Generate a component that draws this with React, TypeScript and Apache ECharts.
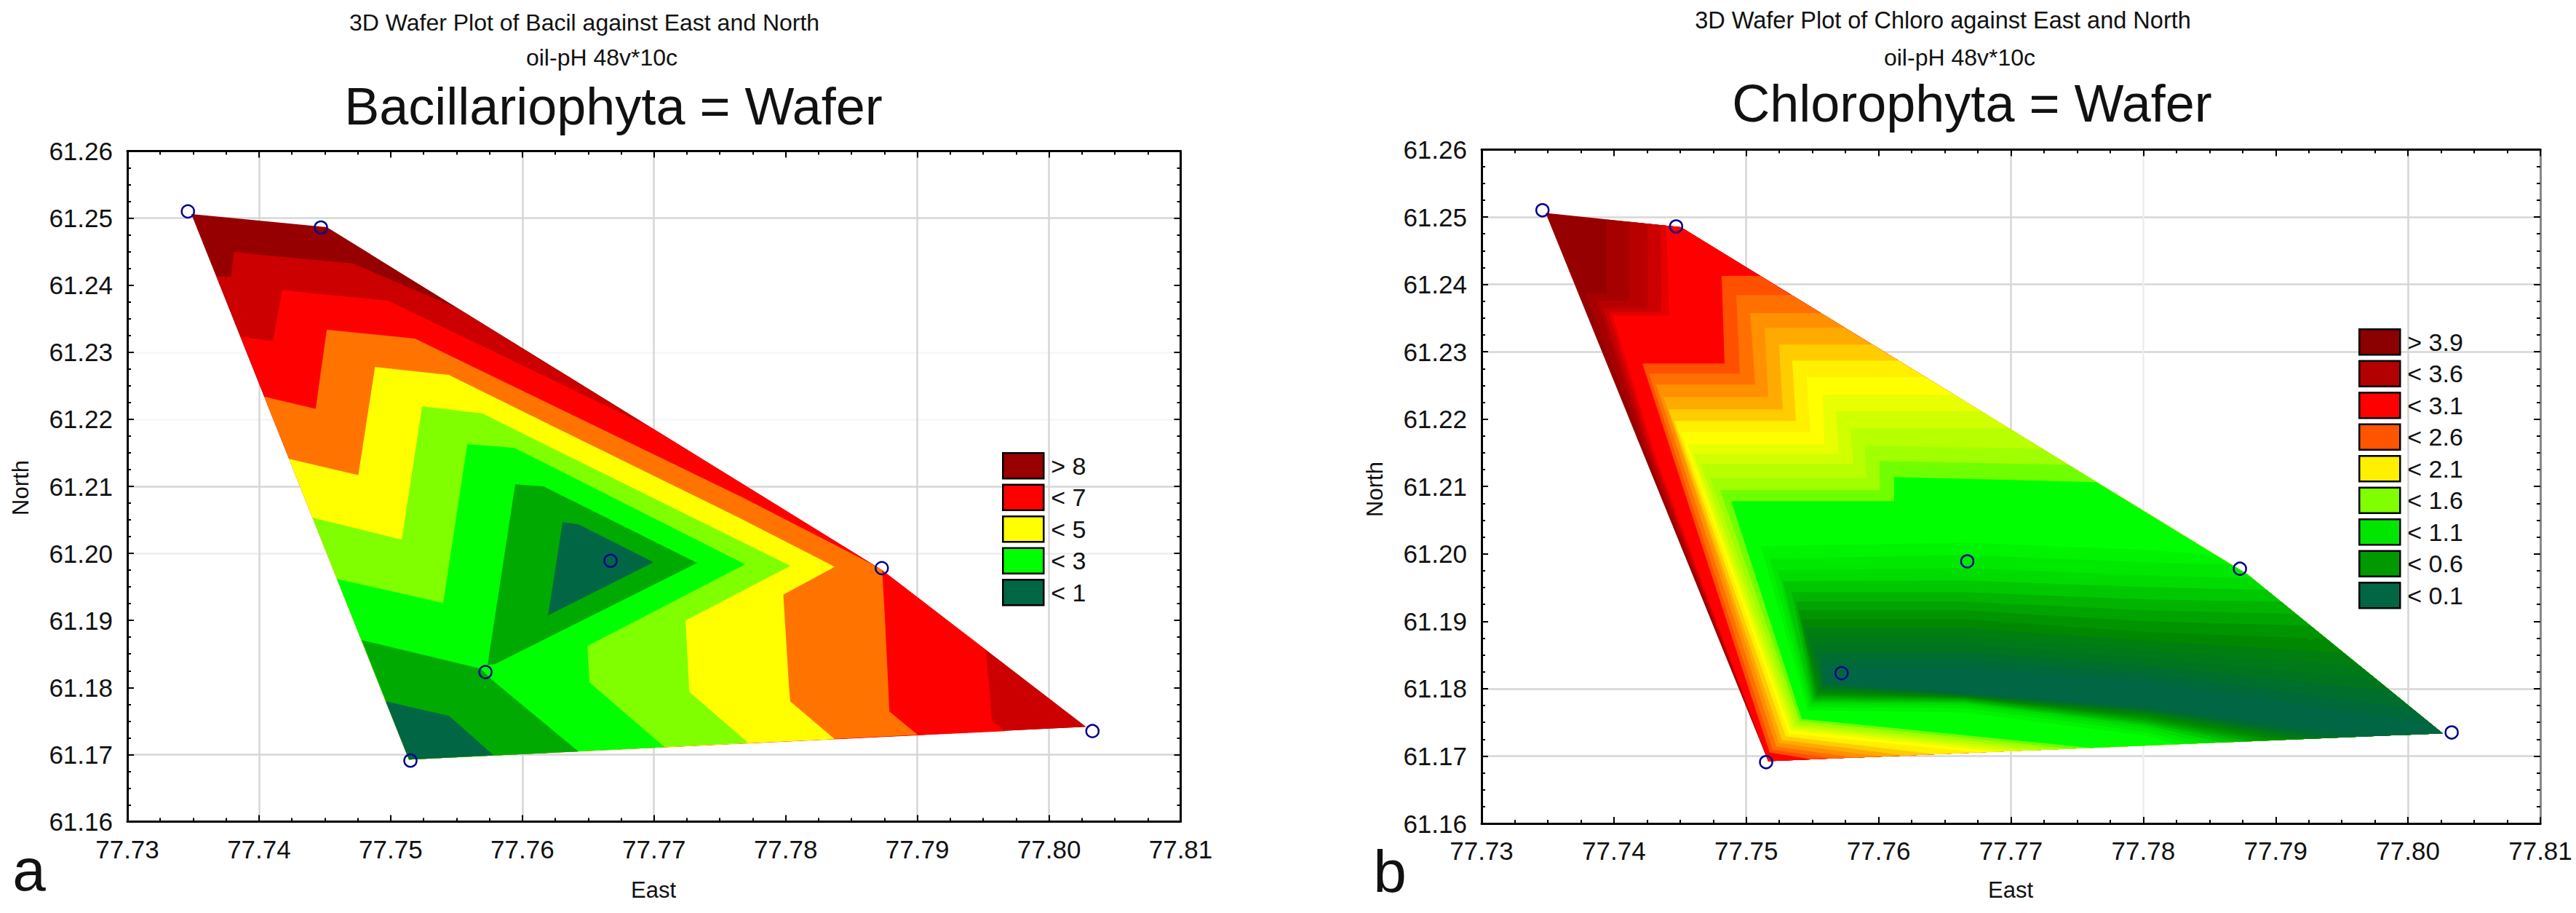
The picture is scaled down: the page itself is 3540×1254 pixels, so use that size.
import React, { useEffect, useRef } from "react";
import * as echarts from "echarts";

const FONT = "Liberation Sans";

// shared axes and the sampling sites, same for both wafers
const eastTicks = { min: 77.73, max: 77.81, interval: 0.01 };
const northTicks = { min: 61.16, max: 61.26, interval: 0.01 };
const siteEast = [77.7346, 77.7447, 77.7667, 77.7873, 77.8033, 77.7515, 77.7572];
const siteNorth = [61.251, 61.2486, 61.1989, 61.1978, 61.1735, 61.1691, 61.1823];

// ---- panel a, Bacillariophyta: contour bands as [east, north], painted high to low ----
const bacilP2 = [77.74515, 61.24865];
const bacilP6 = [77.78733, 61.1975];
const bacilP7 = [77.8028, 61.17414];
const bacilP3 = [77.75139, 61.16926];
const bacilWafer = [[77.73486, 61.25061], bacilP2, bacilP6, bacilP7, bacilP3];
const bacilBand1 = [[77.73677, 61.24133], [77.73787, 61.24124], [77.73809, 61.24498], [77.74006, 61.24454], [77.74712, 61.24325], [77.75499, 61.2366], bacilP6, bacilP7, bacilP3];
const bacilBand2 = [[77.73862, 61.2323], [77.74106, 61.23166], [77.74176, 61.23931], [77.7443, 61.23875], [77.74979, 61.23768], [77.7698, 61.21878], bacilP6, [77.79518, 61.18566], [77.79545, 61.18044], [77.79567, 61.17501], [77.79667, 61.17349], bacilP3];
const bacilBand3 = [[77.74039, 61.22338], [77.7443, 61.22157], [77.74515, 61.23338], [77.75184, 61.23203], [77.77671, 61.20836], [77.78639, 61.19858], bacilP6, [77.78755, 61.18989], [77.78788, 61.17643], [77.79003, 61.17295], bacilP3];
const bacilBand4 = [[77.74227, 61.21411], [77.74754, 61.21168], [77.74881, 61.2278], [77.75443, 61.2266], [77.77671, 61.20507], [77.78373, 61.19801], [77.77982, 61.19384], [77.78023, 61.1808], [77.78034, 61.17795], [77.78373, 61.1723], bacilP3];
const bacilBand5 = [[77.74407, 61.20532], [77.75084, 61.20206], [77.75239, 61.22193], [77.75698, 61.22085], [77.78036, 61.19815], [77.7724, 61.19], [77.77268, 61.17936], [77.77715, 61.17175], bacilP3];
const bacilBand6 = [[77.74592, 61.19619], [77.75399, 61.19261], [77.75582, 61.21629], [77.75941, 61.21574], [77.77693, 61.19836], [77.76494, 61.1862], [77.7651, 61.18077], [77.7708, 61.1711], bacilP3];
const bacilBand7a = [[77.75946, 61.21031], [77.76162, 61.20999], [77.77328, 61.19858], [77.75792, 61.18348], [77.75736, 61.18338]];
const bacilBand7b = [[77.7478, 61.18707], [77.75681, 61.18283], [77.75792, 61.18077], [77.76427, 61.17045], bacilP3];
const bacilBand8a = [[77.76306, 61.20466], [77.76427, 61.20434], [77.76997, 61.19869], [77.76195, 61.19076]];
const bacilBand8b = [[77.74962, 61.17795], [77.75443, 61.17577], [77.75781, 61.16991], bacilP3];
const bacilBands = [bacilWafer, bacilBand1, bacilBand2, bacilBand3, bacilBand4, bacilBand5, bacilBand6, bacilBand7a, bacilBand7b, bacilBand8a, bacilBand8b];
const bacilColors = ["#960000", "#cc0000", "#ff0000", "#ff7400", "#ffff00", "#7fff00", "#00ff00", "#00aa00", "#00aa00", "#006644", "#006644"];
const bacilLegend = ["> 8", "< 7", "< 5", "< 3", "< 1"];
const bacilLegendColors = ["#990000", "#ff0000", "#ffff00", "#00ff00", "#006644"];

// ---- panel b, Chlorophyta: finer levels read band by band ----
const chloroTip = [77.73484, 61.25059];
const chloroP2 = [77.74506, 61.24849];
const chloroP6 = [77.78787, 61.19694];
const chloroP7 = [77.80262, 61.17338];
const chloroP3 = [77.75166, 61.16924];
const chloroWafer = [chloroTip, chloroP2, chloroP6, chloroP7, chloroP3];

// dark red wedge at the tip
const darkColors = ["#a60000", "#b80000", "#cc0000", "#e60000", "#ff0000"];
const darkTopEast = [77.73946, 77.74116, 77.74253, 77.74352, 77.74396];
const darkTopNorth = [61.24964, 61.24929, 61.24901, 61.24881, 61.24871];
const darkStepEast = [77.73946, 77.74116, 77.74253, 77.74358, 77.74418];
const darkStepNorth = [61.23865, 61.23757, 61.23649, 61.23584, 61.2354];
const darkLeftEast = [77.73781, 77.73874, 77.73918, 77.73962, 77.7399];
const darkMidEast = [77.74237, 77.74253, 77.7427, 77.74286, 77.74303];
const darkMidNorth = 61.21519;

// orange to green staircase
const stairColors = ["#ff5000", "#ff7000", "#ff9000", "#ffaa00", "#ffcc00", "#fff000", "#ffff00", "#e8ff00", "#d0ff00", "#b8ff00", "#a0ff00", "#70ff00", "#00ff00"];
const stairEdgeEast = [77.75106, 77.75342, 77.75567, 77.75743, 77.75952, 77.7615, 77.76354, 77.76573, 77.76777, 77.76986, 77.77233, 77.77431, 77.77645];
const stairEdgeNorth = [61.24124, 61.23843, 61.23573, 61.23357, 61.23108, 61.2287, 61.22622, 61.22362, 61.22113, 61.21865, 61.21562, 61.21324, 61.21065];
const stairTopEast = [77.74814, 77.74924, 77.75029, 77.75139, 77.75248, 77.75347, 77.75457, 77.75578, 77.75677, 77.75787, 77.75897, 77.76007, 77.76117];
const stairTopNorth = [61.24124, 61.23843, 61.23573, 61.23357, 61.23108, 61.2287, 61.22622, 61.22362, 61.22113, 61.21865, 61.21605, 61.21378, 61.2114];
const stairLowEast = [77.74836, 77.74952, 77.75067, 77.75166, 77.75276, 77.75375, 77.75485, 77.75589, 77.75699, 77.75809, 77.75908, 77.76007, 77.76117];
const stairLowNorth = [61.22827, 61.22676, 61.22513, 61.2233, 61.22146, 61.21973, 61.21811, 61.21627, 61.21486, 61.21335, 61.2113, 61.20946, 61.20784];
const stairWestEast = [77.74215, 77.74264, 77.74319, 77.74374, 77.74413, 77.74457, 77.74506, 77.74556, 77.746, 77.74655, 77.74726, 77.74803, 77.74886];
const stairCornerEast = [77.75177, 77.75199, 77.75227, 77.75248, 77.7527, 77.75298, 77.7532, 77.75336, 77.75353, 77.75369, 77.75386, 77.75402, 77.75419];
const stairCornerNorth = [61.17054, 61.17097, 61.1714, 61.17194, 61.17238, 61.17292, 61.17335, 61.17378, 61.17411, 61.17443, 61.17475, 61.17519, 61.17551];
const stairBaseEast = [77.75496, 77.75661, 77.75826, 77.76018, 77.7621, 77.7643, 77.7676, 77.76898, 77.77035, 77.77173, 77.7731, 77.77447, 77.77601];
const stairBaseNorth = [61.16951, 61.16964, 61.16978, 61.16993, 61.17008, 61.17027, 61.17054, 61.17065, 61.17076, 61.17086, 61.17097, 61.17109, 61.17122];

// green to dark valley running to the east corner
const valleyColors = ["#00f400", "#00e800", "#00dc00", "#00c800", "#00b400", "#00a400", "#009400", "#008800", "#007f10", "#007a18", "#00741f", "#006e2c", "#00693a", "#006644"];
const valleyMidEast = 77.7665;
const valleyFarEast = 77.78025;
const valleyWestEast = [77.75111, 77.75177, 77.75237, 77.75276, 77.75342, 77.75375, 77.75397, 77.75413, 77.75441, 77.75468, 77.75501, 77.75534, 77.75567, 77.75595];
const valleyWestNorth = [61.20113, 61.1993, 61.19757, 61.19595, 61.19432, 61.19292, 61.19162, 61.19032, 61.18903, 61.18784, 61.18665, 61.18546, 61.18427, 61.18308];
const valleyUpMidNorth = [61.20168, 61.19984, 61.19789, 61.19605, 61.19432, 61.19292, 61.19162, 61.19032, 61.18903, 61.18784, 61.18665, 61.18546, 61.18427, 61.18308];
const valleyUpFarNorth = [61.20059, 61.19876, 61.19681, 61.19508, 61.19324, 61.19162, 61.19, 61.18838, 61.18708, 61.18578, 61.18459, 61.1834, 61.18222, 61.18103];
const valleyEdgeEast = [77.78542, 77.78662, 77.78822, 77.78932, 77.79042, 77.79152, 77.79262, 77.79383, 77.79509, 77.79636, 77.79756, 77.79866, 77.80031, 77.80169];
const valleyEdgeNorth = [61.19984, 61.19843, 61.19638, 61.19465, 61.19292, 61.19108, 61.18935, 61.1874, 61.18535, 61.1834, 61.18146, 61.17962, 61.17703, 61.17486];
const valleyBaseEast = [77.78245, 77.78355, 77.78465, 77.78585, 77.78712, 77.78805, 77.78904, 77.79014, 77.79124, 77.79207, 77.79289, 77.79372, 77.79482, 77.79729];
const valleyBaseNorth = [61.17174, 61.17184, 61.17192, 61.17202, 61.17212, 61.17219, 61.17228, 61.17237, 61.17245, 61.17253, 61.17259, 61.17266, 61.17274, 61.17295];
const valleyLowFarNorth = [61.17303, 61.17357, 61.17411, 61.17454, 61.17486, 61.17519, 61.17551, 61.17584, 61.17616, 61.17638, 61.17659, 61.17681, 61.17703, 61.17735];
const valleyLowMidNorth = [61.17648, 61.17713, 61.17757, 61.17789, 61.17811, 61.17832, 61.17854, 61.17865, 61.17876, 61.17886, 61.17897, 61.17908, 61.17919, 61.1793];
const valleyCornerEast = [77.75463, 77.75474, 77.75485, 77.75496, 77.75507, 77.75518, 77.75529, 77.7554, 77.75551, 77.75562, 77.75573, 77.75578, 77.75589, 77.75595];
const valleyCornerNorth = [61.17681, 61.17724, 61.17767, 61.178, 61.17832, 61.17865, 61.17897, 61.1793, 61.17962, 61.17984, 61.18016, 61.18038, 61.18059, 61.18092];

const chloroLegend = ["> 3.9", "< 3.6", "< 3.1", "< 2.6", "< 2.1", "< 1.6", "< 1.1", "< 0.6", "< 0.1"];
const chloroLegendColors = ["#8b0000", "#b30000", "#ff0000", "#ff5500", "#fff000", "#7fff00", "#00e600", "#009900", "#006644"];

// gridlines come out unevenly in the picture, so colour them per tick
const G = "#d6d6d6";
const L = "#eeeeee";
const F = "#f6f6f6";
const N = "rgba(0,0,0,0)";
const bacilEastGrid = [N, G, N, G, G, N, G, G, N];
const bacilNorthGrid = [N, G, N, N, L, G, F, F, N, G, N];
const chloroEastGrid = [N, N, G, N, G, L, N, G, N];
const chloroNorthGrid = [N, G, G, N, N, N, N, G, G, G, N];

const buildChloroBands = () => {
  const bands: number[][][] = [chloroWafer];
  const colors: string[] = ["#960000"];
  darkColors.forEach((c, i) => {
    bands.push([
      [darkTopEast[i], darkTopNorth[i]],
      chloroP2,
      chloroP6,
      chloroP7,
      chloroP3,
      [darkMidEast[i], darkMidNorth],
      [darkLeftEast[i], darkStepNorth[i]],
      [darkStepEast[i], darkStepNorth[i]],
    ]);
    colors.push(c);
  });
  stairColors.forEach((c, i) => {
    bands.push([
      [stairEdgeEast[i], stairEdgeNorth[i]],
      chloroP6,
      chloroP7,
      [stairBaseEast[i], stairBaseNorth[i]],
      [stairCornerEast[i], stairCornerNorth[i]],
      [stairWestEast[i], stairLowNorth[i]],
      [stairLowEast[i], stairLowNorth[i]],
      [stairTopEast[i], stairTopNorth[i]],
    ]);
    colors.push(c);
  });
  valleyColors.forEach((c, i) => {
    const pts = [
      [valleyWestEast[i], valleyWestNorth[i]],
      [valleyMidEast, valleyUpMidNorth[i]],
      [valleyFarEast, valleyUpFarNorth[i]],
      [valleyEdgeEast[i], valleyEdgeNorth[i]],
    ];
    if (valleyEdgeNorth[i] > chloroP6[1]) pts.push(chloroP6);
    pts.push(
      chloroP7,
      [valleyBaseEast[i], valleyBaseNorth[i]],
      [valleyFarEast, valleyLowFarNorth[i]],
      [valleyMidEast, valleyLowMidNorth[i]],
      [valleyCornerEast[i], valleyCornerNorth[i]]
    );
    bands.push(pts);
    colors.push(c);
  });
  return { bands, colors };
};

const bandSeries = (bands: number[][][], colors: string[], axisIndex: number) => ({
  type: "custom",
  coordinateSystem: "cartesian2d",
  xAxisIndex: axisIndex,
  yAxisIndex: axisIndex,
  z: 2,
  silent: true,
  clip: false,
  data: bands.map((b) => b[0]),
  renderItem: (params: any, api: any) => ({
    type: "polygon",
    shape: { points: bands[params.dataIndex].map((p) => api.coord(p)) },
    style: { fill: colors[params.dataIndex], stroke: null },
  }),
});

const siteSeries = (axisIndex: number) => ({
  type: "scatter",
  xAxisIndex: axisIndex,
  yAxisIndex: axisIndex,
  z: 5,
  silent: true,
  symbol: "circle",
  symbolSize: 17,
  itemStyle: { color: "rgba(0,0,0,0)", borderColor: "#00008b", borderWidth: 2.5, opacity: 1 },
  data: siteEast.map((e, i) => [e, siteNorth[i]]),
});

const legendSeries = (name: string, color: string) => ({
  type: "scatter",
  name,
  data: [],
  itemStyle: { color, opacity: 1 },
});

const legendOf = (names: string[], colors: string[], left: number, top: number) => ({
  left,
  top,
  orient: "vertical",
  selectedMode: false,
  itemWidth: 56,
  itemHeight: 35,
  itemGap: 6,
  padding: 0,
  textStyle: { fontFamily: FONT, fontSize: 34, color: "#111", padding: [0, 0, 0, 5] },
  data: names.map((name, i) => ({
    name,
    icon: "rect",
    itemStyle: { color: colors[i], borderColor: "#000", borderWidth: 2.5, opacity: 1 },
  })),
});

const makeAxis = (gridIndex: number, range: any, position: string, gridColors: string[] | null, lineColor = "#000") => ({
  type: "value",
  gridIndex,
  position,
  ...range,
  axisLine: { show: true, onZero: false, lineStyle: { color: lineColor, width: 3 } },
  axisTick: { show: true, inside: true, length: 9, lineStyle: { color: "#000", width: 2 } },
  minorTick: { show: true, splitNumber: 4, length: 5, lineStyle: { color: "#000", width: 2 } },
  axisLabel: gridColors
    ? {
        show: true,
        fontFamily: FONT,
        fontSize: 35,
        color: "#111",
        margin: 20,
        formatter: (v: number) => v.toFixed(2),
      }
    : { show: false },
  splitLine: gridColors
    ? { show: true, lineStyle: { color: gridColors, width: 2.5 } }
    : { show: false },
});

const textItem = (text: string, x: number, y: number, size: number, rotation = 0) => ({
  type: "text",
  x,
  y,
  rotation,
  style: {
    text,
    fontFamily: FONT,
    fontSize: size,
    fill: "#111",
    textAlign: "center",
    textVerticalAlign: "middle",
  },
});

const App = () => {
  const chartRef = useRef<HTMLDivElement>(null);

  useEffect(() => {
    const chart = echarts.init(chartRef.current, null, { renderer: "svg" });
    const chloro = buildChloroBands();
    chart.setOption({
      animation: false,
      backgroundColor: "#fff",
      grid: [
        { left: 175, top: 207.5, width: 1447.5, height: 921 },
        { left: 2036, top: 205.5, width: 1455, height: 925.5 },
      ],
      xAxis: [
        makeAxis(0, eastTicks, "bottom", bacilEastGrid),
        makeAxis(0, eastTicks, "top", null),
        makeAxis(1, eastTicks, "bottom", chloroEastGrid),
        makeAxis(1, eastTicks, "top", null),
      ],
      yAxis: [
        makeAxis(0, northTicks, "left", bacilNorthGrid),
        makeAxis(0, northTicks, "right", null),
        makeAxis(1, northTicks, "left", chloroNorthGrid),
        makeAxis(1, northTicks, "right", null, "#888"),
      ],
      legend: [
        legendOf(bacilLegend, bacilLegendColors, 1377, 621),
        legendOf(chloroLegend, chloroLegendColors, 3241, 451),
      ],
      series: [
        bandSeries(bacilBands, bacilColors, 0),
        bandSeries(chloro.bands, chloro.colors, 2),
        siteSeries(0),
        siteSeries(2),
        ...bacilLegend.map((n, i) => legendSeries(n, bacilLegendColors[i])),
        ...chloroLegend.map((n, i) => legendSeries(n, chloroLegendColors[i])),
      ],
      graphic: [
        textItem("3D Wafer Plot of Bacil against East and North", 803, 31, 32),
        textItem("oil-pH 48v*10c", 827, 79, 32),
        textItem("Bacillariophyta = Wafer", 843, 146, 72),
        textItem("East", 898, 1222, 31),
        textItem("North", 28, 670, 31, Math.PI / 2),
        textItem("a", 40, 1194, 82),
        textItem("3D Wafer Plot of Chloro against East and North", 2670, 28, 32.5),
        textItem("oil-pH 48v*10c", 2693, 79, 32),
        textItem("Chlorophyta = Wafer", 2710, 142, 72),
        textItem("East", 2763, 1222, 31),
        textItem("North", 1889, 672, 31, Math.PI / 2),
        textItem("b", 1910, 1196, 82),
      ],
    });
    return () => {
      chart.dispose();
    };
  }, []);

  return <div ref={chartRef} style={{ position: "fixed", left: 0, top: 0, width: 3540, height: 1254 }} />;
};

export default App;
